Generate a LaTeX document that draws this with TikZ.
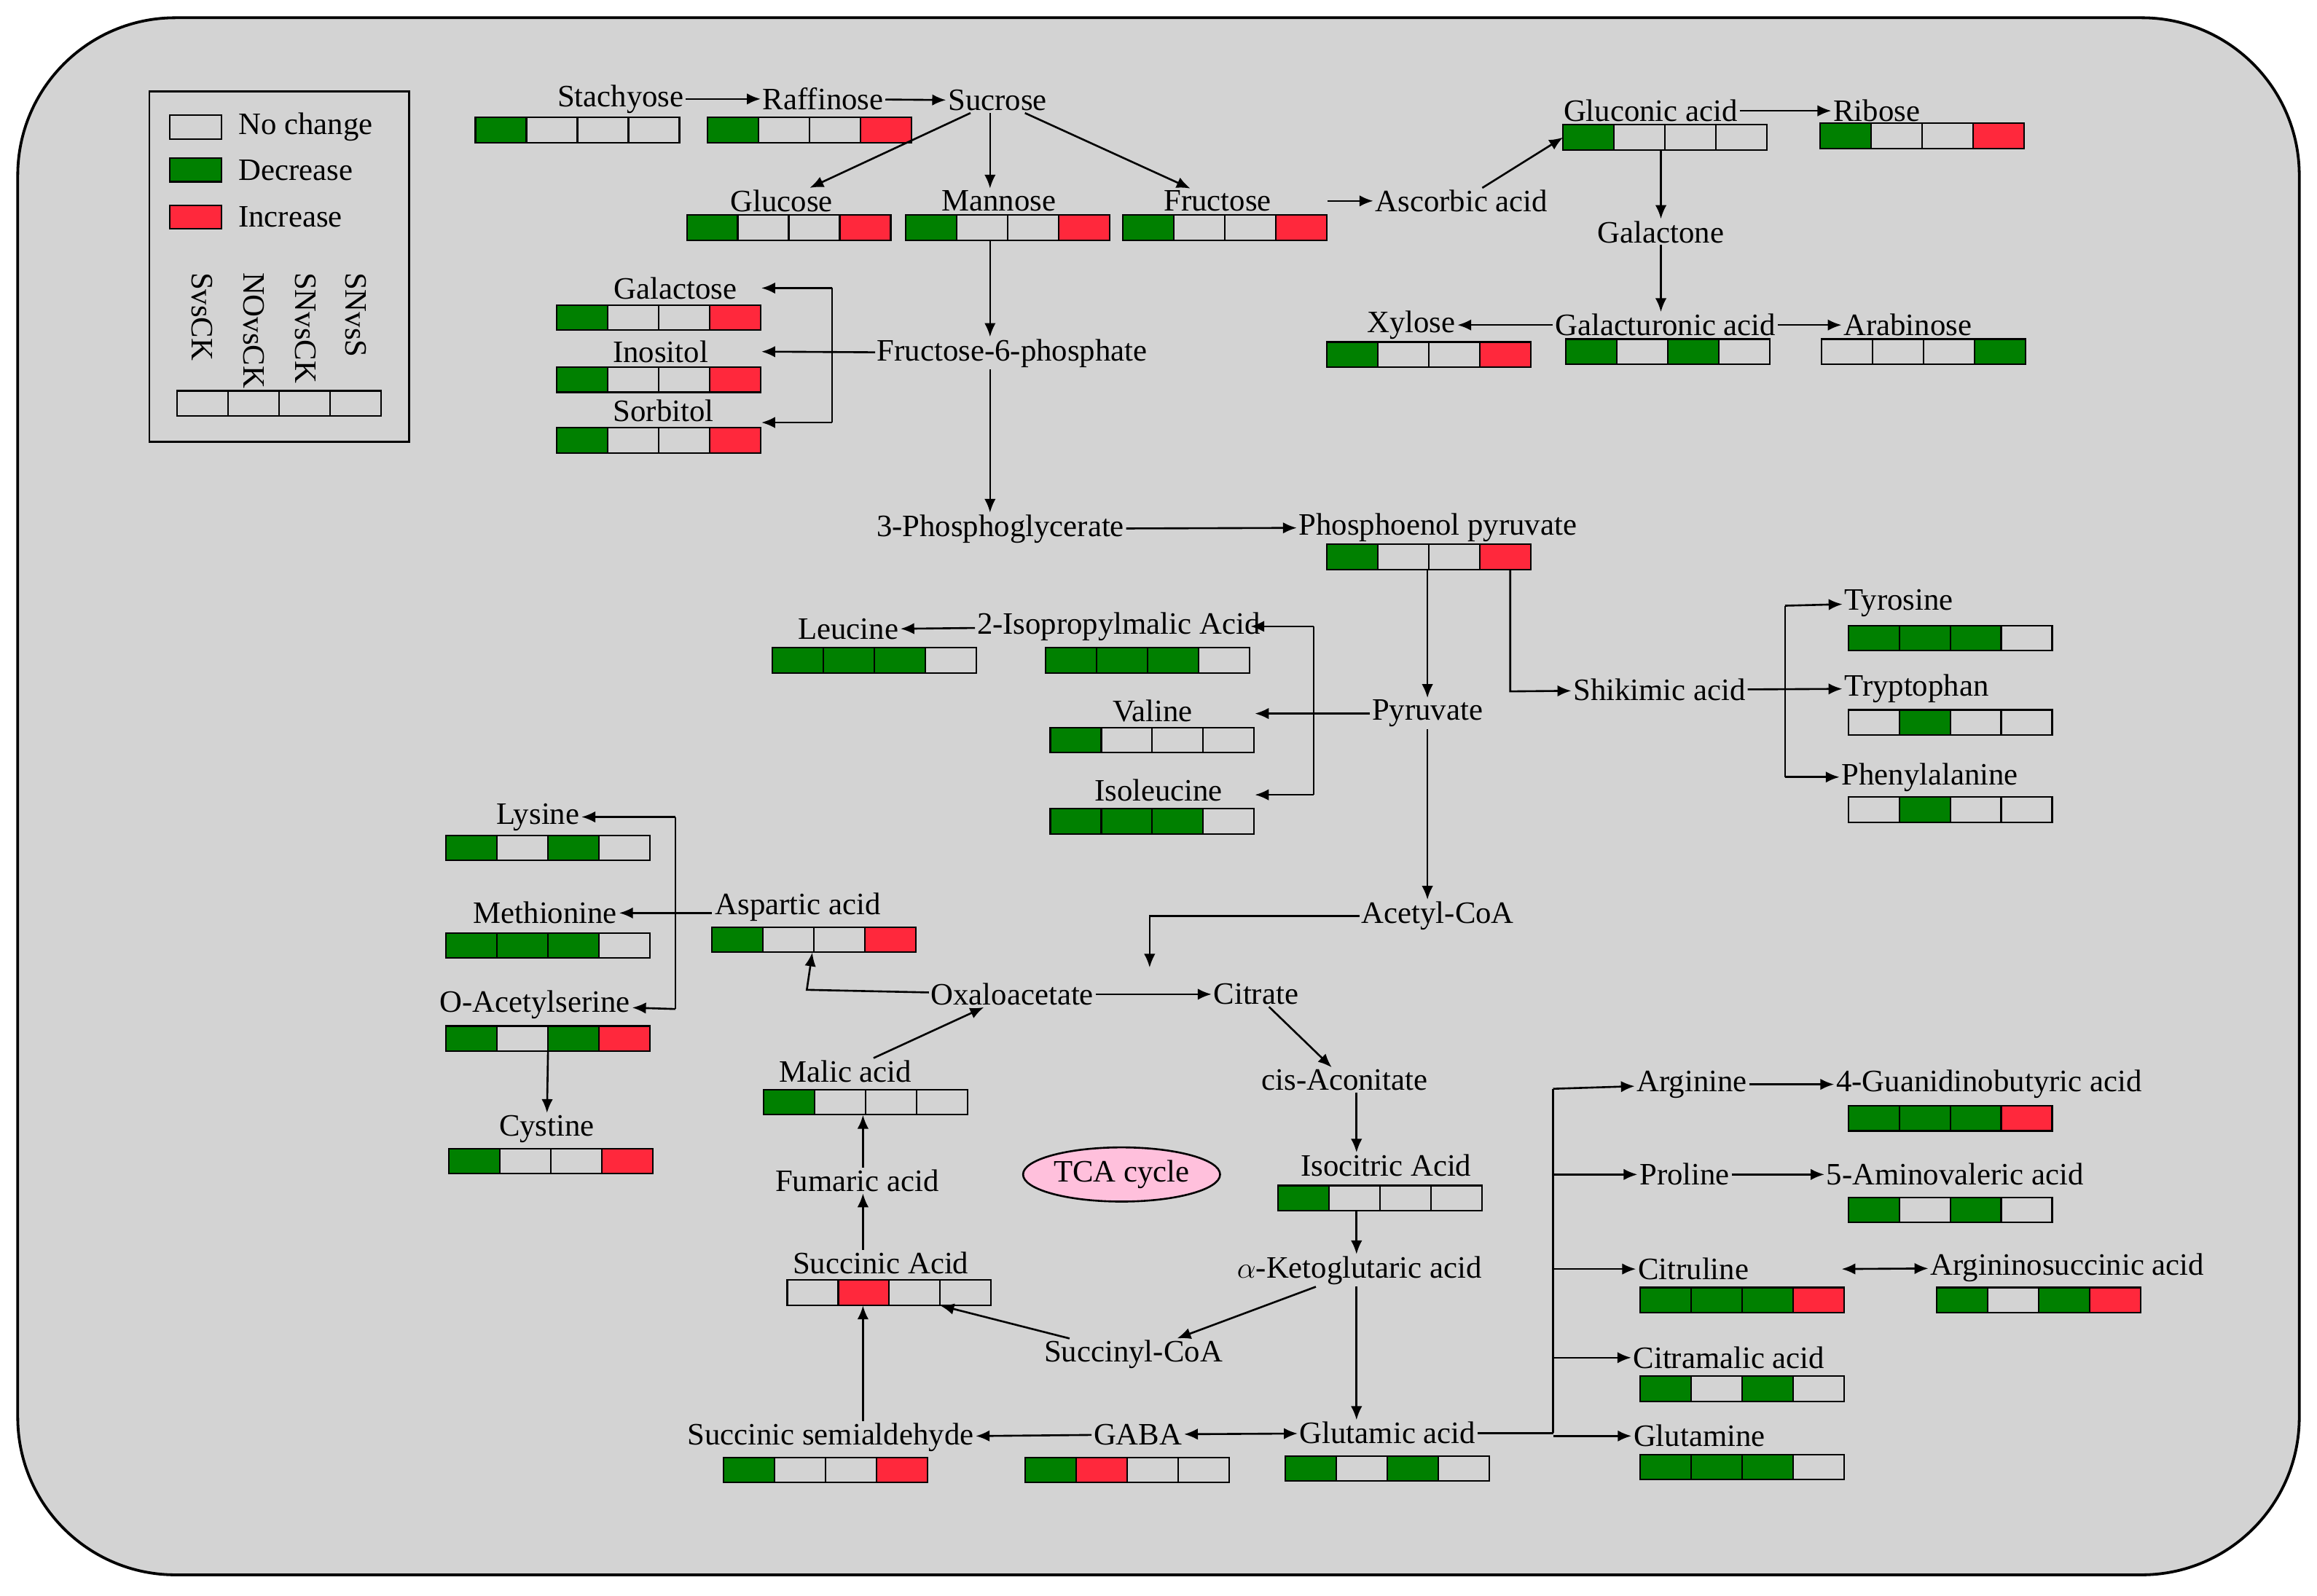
\documentclass[tikz,border=0pt]{standalone}
\usepackage{fontspec}
\setmainfont{Liberation Serif}
\usetikzlibrary{arrows.meta,calc,shapes.geometric}
\definecolor{G}{RGB}{0,128,0}
\definecolor{R}{RGB}{255,40,60}
\definecolor{N}{RGB}{211,211,211}
\definecolor{bg}{RGB}{211,211,211}
\definecolor{tca}{RGB}{255,192,220}
\tikzset{met/.style={inner sep=1pt, font=\fontsize{18}{20}\selectfont},
  bar/.style={minimum width=4.14cm, minimum height=0.51cm, inner sep=0pt},
  flow/.style={-{Latex[length=2.8mm,width=2.3mm]}, line width=1.1pt}}
% row of four coloured cells
\newcommand\bars[4]{%
  \node[bar] (#1) at (#2+69,#3) {};
  \foreach \c [count=\i from 0] in {#4}
    \draw[line width=0.9pt, fill=\c] ($(#1.west)+(\i*34.5,-8.5)$) rectangle ++(34.5,17);}

\begin{document}
\begin{tikzpicture}[x=0.03cm, y=-0.03cm]
\useasboundingbox (0,0) rectangle (1568,1080);
\draw[line width=1.6pt, fill=bg, rounded corners=3.2cm] (12,12) rectangle (1556,1066);

% legend
\draw[line width=1.1pt] (101,62) rectangle (277,299);
\draw[line width=0.9pt, fill=N] (115,78) rectangle (150,94);
\draw[line width=0.9pt, fill=G] (115,107) rectangle (150,123);
\draw[line width=0.9pt, fill=R] (115,139) rectangle (150,155);
\node[met, anchor=west] (lnc) at (160,86) {No change};
\node[met, anchor=west] (ldec) at (160,115) {Decrease};
\node[met, anchor=west] (linc) at (160,147) {Increase};
\foreach \t/\x in {SvsCK/137, NOvsCK/172, SNvsCK/207, SNvsS/241}
  \node[met, rotate=-90, anchor=west] at (\x,183) {\t};
\bars{lbar}{120}{273}{N,N,N,N}

% sugars
\node[met] (stach) at (420,67) {Stachyose};  \bars{stachB}{322}{88}{G,N,N,N}
\node[met] (raff) at (557,67) {Raffinose};   \bars{raffB}{479}{88}{G,N,N,R}
\node[met] (sucr) at (675,68) {Sucrose};
\node[met] (gluc) at (529,136) {Glucose};    \bars{glucB}{465}{154}{G,N,N,R}
\node[met] (mann) at (676,136) {Mannose};    \bars{mannB}{613}{154}{G,N,N,R}
\node[met] (fruc) at (824,136) {Fructose};   \bars{frucB}{760}{154}{G,N,N,R}
\node[met] (asc) at (989,136) {Ascorbic acid};
\node[met] (glcn) at (1117,75) {Gluconic acid}; \bars{glcnB}{1058}{93}{G,N,N,N}
\node[met] (ribo) at (1270,75) {Ribose};     \bars{riboB}{1232}{92}{G,N,N,R}
\node[met] (galn) at (1124,157) {Galactone};
\node[met] (galu) at (1127,220) {Galacturonic acid}; \bars{galuB}{1060}{238}{G,N,G,N}
\node[met] (xylo) at (955,220) {Xylose};     \bars{xyloB}{898}{240}{G,N,N,R}
\node[met] (arab) at (1291,220) {Arabinose}; \bars{arabB}{1233}{238}{N,N,N,G}
\node[met] (galc) at (457,195) {Galactose};  \bars{galcB}{377}{215}{G,N,N,R}
\node[met] (inos) at (447,238) {Inositol};   \bars{inosB}{377}{257}{G,N,N,R}
\node[met] (sorb) at (449,278) {Sorbitol};   \bars{sorbB}{377}{298}{G,N,N,R}
\node[met] (f6p) at (685,239) {Fructose-6-phosphate};
\node[met] (pga) at (677,358) {3-Phosphoglycerate};
\node[met] (pep) at (973,357) {Phosphoenol pyruvate}; \bars{pepB}{898}{377}{G,N,N,R}

% amino acids
\node[met] (ipm) at (757,424) {2-Isopropylmalic Acid}; \bars{ipmB}{708}{447}{G,G,G,N}
\node[met] (leu) at (574,426) {Leucine};     \bars{leuB}{523}{447}{G,G,G,N}
\node[met] (val) at (780,481) {Valine};      \bars{valB}{711}{501}{G,N,N,N}
\node[met] (ile) at (784,535) {Isoleucine};  \bars{ileB}{711}{556}{G,G,G,N}
\node[met] (pyr) at (966,483) {Pyruvate};
\node[met] (shik) at (1123,467) {Shikimic acid};
\node[met] (tyr) at (1285,408) {Tyrosine};   \bars{tyrB}{1251}{432}{G,G,G,N}
\node[met] (trp) at (1297,466) {Tryptophan}; \bars{trpB}{1251}{489}{N,G,N,N}
\node[met] (phe) at (1306,526) {Phenylalanine}; \bars{pheB}{1251}{548}{N,G,N,N}
\node[met] (acoa) at (973,620) {Acetyl-CoA};
\node[met] (lys) at (364,553) {Lysine};      \bars{lysB}{302}{574}{G,N,G,N}
\node[met] (met) at (369,618) {Methionine};  \bars{metB}{302}{640}{G,G,G,N}
\node[met] (oas) at (362,680) {O-Acetylserine}; \bars{oasB}{302}{703}{G,N,G,R}
\node[met] (cys) at (370,764) {Cystine};     \bars{cysB}{304}{786}{G,N,N,R}
\node[met] (asp) at (540,614) {Aspartic acid}; \bars{aspB}{482}{636}{G,N,N,R}

% TCA cycle
\node[met] (oaa) at (685,673) {Oxaloacetate};
\node[met] (cit) at (850,673) {Citrate};
\node[met] (cis) at (910,731) {cis-Aconitate};
\node[met] (icit) at (938,789) {Isocitric Acid}; \bars{icitB}{865}{811}{G,N,N,N}
\node[met] (akg) at (920,860) {$\alpha$-Ketoglutaric acid};
\node[met] (mal) at (572,725) {Malic acid};  \bars{malB}{517}{746}{G,N,N,N}
\node[met] (fum) at (580,799) {Fumaric acid};
\node[met, ellipse, draw, line width=1.1pt, fill=tca, minimum width=3.7cm, minimum height=1.1cm] (tcac) at (759,795) {TCA cycle};
\node[met] (suc) at (596,855) {Succinic Acid}; \bars{sucB}{533}{875}{N,R,N,N}
\node[met] (scoa) at (767,917) {Succinyl-CoA};
\node[met] (ssa) at (562,973) {Succinic semialdehyde}; \bars{ssaB}{490}{995}{G,N,N,R}
\node[met] (gaba) at (770,971) {GABA};       \bars{gabaB}{694}{995}{G,R,N,N}
\node[met] (glu) at (939,970) {Glutamic acid}; \bars{gluB}{870}{994}{G,N,G,N}
\node[met] (arg) at (1145,734) {Arginine};
\node[met] (gba) at (1346,734) {4-Guanidinobutyric acid}; \bars{gbaB}{1251}{757}{G,G,G,R}
\node[met] (pro) at (1140,795) {Proline};
\node[met] (ava) at (1323,795) {5-Aminovaleric acid}; \bars{avaB}{1251}{819}{G,N,G,N}
\node[met] (citr) at (1146,859) {Citruline};  \bars{citrB}{1110}{880}{G,G,G,R}
\node[met] (asa) at (1399,858) {Argininosuccinic acid}; \bars{asaB}{1311}{880}{G,N,G,R}
\node[met] (cma) at (1170,919) {Citramalic acid}; \bars{cmaB}{1110}{940}{G,N,G,N}
\node[met] (gln) at (1150,972) {Glutamine};  \bars{glnB}{1110}{993}{G,G,G,N}

% junction points
\coordinate (j1) at (563,195);  \coordinate (j2) at (563,286);
\coordinate (j3) at (889,424);  \coordinate (j4) at (889,538);
\coordinate (j5) at (1022,468); \coordinate (j6) at (1208,410); \coordinate (j7) at (1208,526);
\coordinate (j8) at (778,620);  \coordinate (j9) at (778,655);
\coordinate (j10) at (546,670); \coordinate (j11) at (457,553); \coordinate (j12) at (457,683);
\coordinate (j13) at (1051,737); \coordinate (j14) at (1051,970);
\coordinate (c1) at (670,0); \coordinate (c2) at (1124,0); \coordinate (c3) at (918,0);
\coordinate (c4) at (584,0); \coordinate (c5) at (966,0);

\begin{scope}[every path/.style={flow}]
\draw (stach) -- (raff);
\draw (raff) -- (sucr);
\draw (sucr) -- (gluc);
\draw (sucr.south -| c1) -- (mann.north -| c1);
\draw (sucr) -- (fruc);
\draw (mannB.south -| c1) -- (f6p.north -| c1);
\draw (fruc.east -| frucB.east) -- (asc);
\draw (asc) -- (glcnB.west);
\draw (glcn) -- (ribo);
\draw (glcnB.south -| c2) -- (galn.north -| c2);
\draw (galn.south -| c2) -- (galu.north -| c2);
\draw (galu) -- (xylo);
\draw (galu) -- (arab);
\draw (f6p) -- (inosB.east |- inos);
\draw[-] (j1) -- (j2);
\draw (j1) -- (galcB.east |- j1);
\draw (j2) -- (sorbB.east |- j2);
\draw (f6p.south -| c1) -- (pga.north -| c1);
\draw (pga) -- (pep);
\draw (pepB.south -| c5) -- (pyr.north -| c5);
\draw (pepB.south -| j5) -- (j5) -- (shik);
\draw (shik) -- (trp);
\draw[-] (j6) -- (j7);
\draw (j6) -- (tyr);
\draw (j7) -- (phe);
\draw (pyr) -- (valB.east |- pyr);
\draw[-] (j3) -- (j4);
\draw (j3) -- (ipmB.east |- j3);
\draw (j4) -- (ileB.east |- j4);
\draw (ipm) -- (leu);
\draw (pyr.south -| c5) -- (acoa.north -| c5);
\draw (acoa) -- (j8) -- (j9);
\draw (oaa) -- (cit);
\draw (oaa) -- (j10) -- (aspB);
\draw (aspB.west |- met) -- (met);
\draw[-] (j11) -- (j12);
\draw (j11) -- (lys);
\draw (j12) -- (oas);
\draw (oasB) -- (cys);
\draw (cit) -- (cis);
\draw (cis.south -| c3) -- (icit.north -| c3);
\draw (icitB.south -| c3) -- (akg.north -| c3);
\draw (akg) -- (scoa);
\draw (akg.south -| c3) -- (glu.north -| c3);
\draw (scoa) -- (sucB);
\draw (ssa.north -| c4) -- (sucB.south -| c4);
\draw (suc.north -| c4) -- (fum.south -| c4);
\draw (fum.north -| c4) -- (malB.south -| c4);
\draw (mal) -- (oaa);
\draw (gaba) -- (ssa);
\draw[{Latex[length=2.8mm,width=2.3mm]}-{Latex[length=2.8mm,width=2.3mm]}] (gaba) -- (glu);
\draw[-] (glu) -- (j14 |- glu);
\draw[-] (j13) -- (j14);
\draw (j13) -- (arg);
\draw (j13 |- pro) -- (pro);
\draw (j13 |- citr) -- (citr);
\draw (j13 |- cma) -- (cma);
\draw (j13 |- gln) -- (gln);
\draw (arg) -- (gba);
\draw (pro) -- (ava);
\draw[{Latex[length=2.8mm,width=2.3mm]}-{Latex[length=2.8mm,width=2.3mm]}] (citr.east -| citrB.east) ++(-2,0) coordinate (j16) -- (asa);
\end{scope}
\end{tikzpicture}
\end{document}
